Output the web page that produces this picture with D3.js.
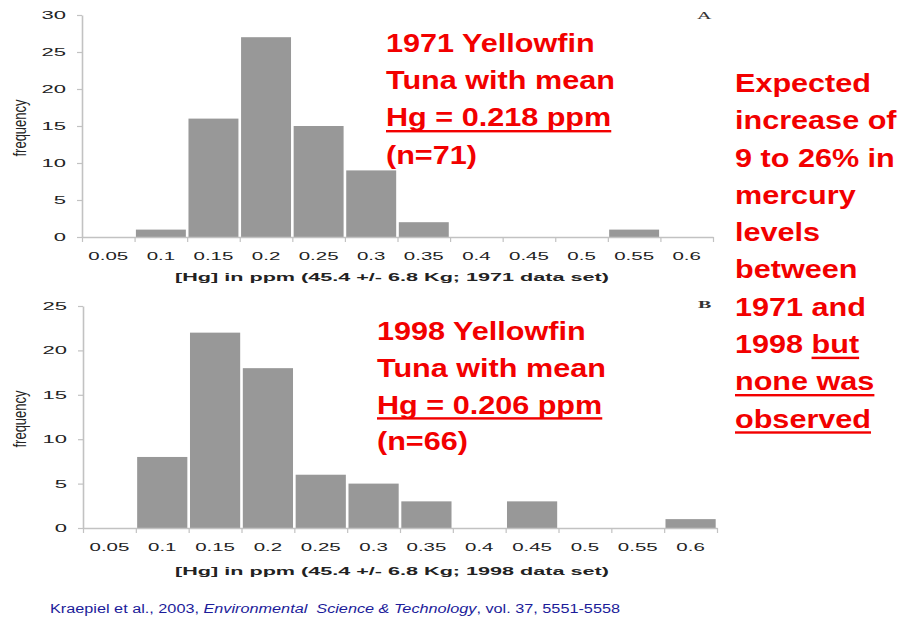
<!DOCTYPE html>
<html>
<head>
<meta charset="utf-8">
<script src="https://cdn.jsdelivr.net/npm/d3@7"></script>
<style>
  html, body { margin: 0; padding: 0; background: #fff; }
  svg { display: block; }
</style>
</head>
<body>
<svg id="chart" width="903" height="621"></svg>
<script>
// Mercury concentration bins (ppm) shared by both histograms
const binLabels = ["0.05", "0.1", "0.15", "0.2", "0.25", "0.3", "0.35", "0.4", "0.45", "0.5", "0.55", "0.6"];
// Number of fish per bin
const freq1971 = [0, 1, 16, 27, 15, 9, 2, 0, 0, 0, 1, 0];
const freq1998 = [0, 8, 22, 18, 6, 5, 3, 0, 3, 0, 0, 1];
// Frequency axis ticks
const yTicks1971 = [0, 5, 10, 15, 20, 25, 30];
const yTicks1998 = [0, 5, 10, 15, 20, 25];
// Panel text
const axisTitle1971 = "[Hg] in ppm (45.4 +/- 6.8 Kg; 1971 data set)";
const axisTitle1998 = "[Hg] in ppm (45.4 +/- 6.8 Kg; 1998 data set)";
const note1971 = [
  [{ t: "1971 Yellowfin" }],
  [{ t: "Tuna with mean" }],
  [{ t: "Hg = 0.218 ppm", u: true }],
  [{ t: "(n=71)" }]
];
const note1998 = [
  [{ t: "1998 Yellowfin" }],
  [{ t: "Tuna with mean" }],
  [{ t: "Hg = 0.206 ppm", u: true }],
  [{ t: "(n=66)" }]
];
const sideNote = [
  [{ t: "Expected" }],
  [{ t: "increase of" }],
  [{ t: "9 to 26% in" }],
  [{ t: "mercury" }],
  [{ t: "levels" }],
  [{ t: "between" }],
  [{ t: "1971 and" }],
  [{ t: "1998 " }, { t: "but", u: true }],
  [{ t: "none was", u: true }],
  [{ t: "observed", u: true }]
];

const svg = d3.select("#chart");
const SANS = "'Liberation Sans', Arial, Helvetica, sans-serif";
const AXIS_GREY = "#c2c2c2";
const BAR_FILL = "#989898";
const TEXT_DARK = "#222";
const RED = "#f20000";

// The figure is drawn horizontally stretched: text is widened with scale(sx, 1)
const FIG_SX = 1.95;

function histogram(cfg) {
  const g = svg.append("g");
  const x = d3.scaleBand().domain(binLabels).range([cfg.x0, cfg.x1])
    .paddingInner(0.05).paddingOuter(0.025);
  const xEdge = d3.scaleLinear().domain([0, binLabels.length]).range([cfg.x0, cfg.x1]);
  const y = d3.scaleLinear().domain([0, cfg.yMax]).range([cfg.yBottom, cfg.yTop]);

  // bars
  g.append("g").selectAll("rect")
    .data(cfg.values.map((v, i) => ({ label: binLabels[i], v })))
    .join("rect")
    .attr("x", d => x(d.label))
    .attr("width", x.bandwidth())
    .attr("y", d => y(d.v))
    .attr("height", d => y(0) - y(d.v))
    .attr("fill", BAR_FILL);

  // y axis
  const yAxis = g.append("g")
    .attr("transform", `translate(${cfg.x0},0)`)
    .call(d3.axisLeft(y).tickValues(cfg.yTicks).tickSize(5).tickSizeOuter(0).tickFormat(d3.format("d")));
  yAxis.select(".domain").attr("stroke", AXIS_GREY).attr("stroke-width", 1.6);
  yAxis.selectAll(".tick line").attr("stroke", AXIS_GREY).attr("stroke-width", 1.2);
  yAxis.selectAll(".tick text")
    .attr("font-family", SANS).attr("font-size", 10.5).attr("fill", TEXT_DARK)
    .attr("x", -16 / 2.1).attr("dy", "0.34em")
    .attr("transform", "scale(2.1,1)");

  // x axis: tick marks at bin edges
  const xAxis = g.append("g")
    .attr("transform", `translate(0,${cfg.yBottom})`)
    .call(d3.axisBottom(xEdge).tickValues(d3.range(0, binLabels.length + 1)).tickSize(5).tickSizeOuter(0).tickFormat(""));
  xAxis.select(".domain").attr("stroke", AXIS_GREY).attr("stroke-width", 1.6);
  xAxis.selectAll(".tick line").attr("stroke", AXIS_GREY).attr("stroke-width", 1.2);

  // x axis: bin labels centred in each bin
  const xLab = g.append("g")
    .attr("transform", `translate(0,${cfg.yBottom})`)
    .call(d3.axisBottom(x).tickSize(0));
  xLab.select(".domain").remove();
  xLab.selectAll(".tick text")
    .attr("font-family", SANS).attr("font-size", 10.5).attr("fill", TEXT_DARK)
    .attr("y", cfg.labelOffset).attr("dy", 0)
    .attr("transform", `scale(${FIG_SX},1)`);

  // axis title
  g.append("text")
    .attr("transform", `translate(${cfg.titleX},${cfg.yBottom + cfg.titleOffset}) scale(1.88,1)`)
    .attr("text-anchor", "middle")
    .attr("font-family", SANS).attr("font-weight", "bold").attr("font-size", 11.5)
    .attr("fill", TEXT_DARK)
    .text(cfg.title);

  // y axis title
  g.append("text")
    .attr("transform", `translate(26,${(cfg.yTop + cfg.yBottom) / 2 + 2}) rotate(-90) scale(1,1.35)`)
    .attr("text-anchor", "middle")
    .attr("font-family", SANS).attr("font-size", 13)
    .attr("fill", TEXT_DARK)
    .text("frequency");

  // panel letter
  g.append("text")
    .attr("transform", `translate(${cfg.letterX},${cfg.letterY}) scale(2,1)`)
    .attr("font-family", "'Liberation Serif', 'Times New Roman', serif")
    .attr("font-size", 10).attr("font-weight", cfg.letterBold ? "bold" : "normal")
    .attr("fill", "#333")
    .text(cfg.letter);
}

// Red annotation block: lines of text, some segments underlined
function note(lines, x0, y0, pitch) {
  const SX = 1.155, FS = 26.5;
  const g = svg.append("g").attr("transform", `translate(${x0},${y0}) scale(${SX},1)`);
  lines.forEach((segs, i) => {
    const yy = i * pitch;
    const t = g.append("text")
      .attr("x", 0).attr("y", yy)
      .attr("font-family", SANS).attr("font-weight", "bold").attr("font-size", FS)
      .attr("fill", RED);
    segs.forEach(s => t.append("tspan").text(s.t));
    const node = t.node();
    let offset = 0;
    segs.forEach(s => {
      const len = node.getSubStringLength(offset, s.t.length);
      const start = offset === 0 ? 0 : node.getSubStringLength(0, offset);
      if (s.u) {
        g.append("rect")
          .attr("x", start).attr("y", yy + 3.6)
          .attr("width", len).attr("height", 2.4)
          .attr("fill", RED);
      }
      offset += s.t.length;
    });
  });
}

histogram({
  values: freq1971, yTicks: yTicks1971, yMax: 30,
  x0: 82, x1: 713, yTop: 15, yBottom: 237,
  labelOffset: 23, titleOffset: 44, titleX: 392, title: axisTitle1971,
  letter: "A", letterX: 697, letterY: 19, letterBold: false
});

histogram({
  values: freq1998, yTicks: yTicks1998, yMax: 25,
  x0: 83, x1: 717, yTop: 306, yBottom: 528,
  labelOffset: 23, titleOffset: 47, titleX: 392, title: axisTitle1998,
  letter: "B", letterX: 698, letterY: 308, letterBold: true
});

note(note1971, 386, 52, 37.2);
note(note1998, 377, 340, 36.8);
note(sideNote, 735, 92, 37.3);

// Citation line
const cite = svg.append("text")
  .attr("x", 50).attr("y", 613)
  .attr("font-family", SANS).attr("font-size", 12)
  .attr("fill", "#1c1c9a")
  .attr("textLength", 570).attr("lengthAdjust", "spacingAndGlyphs");
cite.append("tspan").text("Kraepiel et al., 2003, ");
cite.append("tspan").attr("font-style", "italic").text("Environmental\u00a0 Science & Technology");
cite.append("tspan").text(", vol. 37, 5551-5558");
</script>
</body>
</html>
